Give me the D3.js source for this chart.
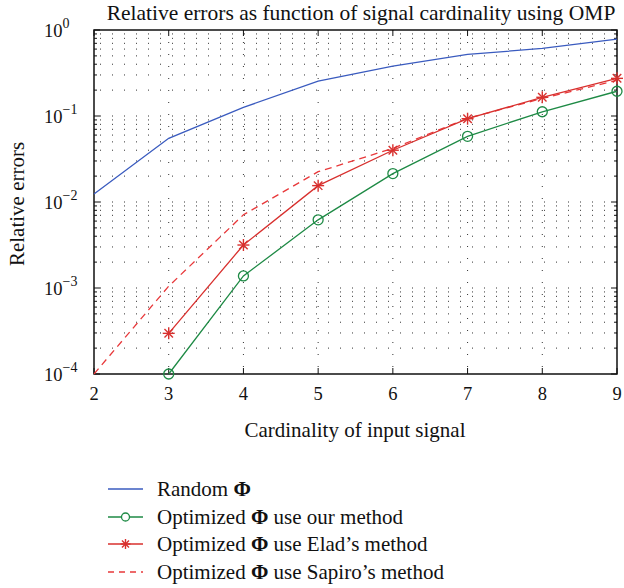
<!DOCTYPE html>
<html><head><meta charset="utf-8">
<script src="https://cdn.jsdelivr.net/npm/d3@7"></script>
<style>body{margin:0;background:#fff}text{font-family:"Liberation Serif","DejaVu Serif",serif;fill:#111}</style>
</head><body><svg id="c" width="624" height="588"></svg>
<script>
const cardinality = [2,3,4,5,6,7,8,9];
const randomPhi = [0.0124,0.055,0.126,0.255,0.38,0.52,0.61,0.785];
const ourCard = [3,4,5,6,7,8,9];
const ourMethod = [1.0e-4,1.38e-3,6.2e-3,0.0214,0.058,0.112,0.194];
const eladCard = [3,4,5,6,7,8,9];
const eladMethod = [2.97e-4,3.16e-3,0.0155,0.040,0.093,0.165,0.274];
const sapiroCard = [2,3,4,5,6,7,8,9];
const sapiroMethod = [1.0e-4,1.05e-3,7.1e-3,0.0225,0.042,0.094,0.16,0.26];
const yTicks = [1e-4,1e-3,1e-2,1e-1,1];
const yExp = ["\u22124","\u22123","\u22122","\u22121","0"];
const legendLabels = ["Random ","Optimized ","Optimized ","Optimized "];
const legendSuffix = [""," use our method"," use Elad\u2019s method"," use Sapiro\u2019s method"];

const svg = d3.select("#c");
const L=94,R=617,T=30,B=374;
const x = d3.scaleLinear().domain([2,9]).range([L,R]);
const y = d3.scaleLog().domain([1e-4,1]).range([B,T]);

const minor=[];
for(let e=-4;e<0;e++) for(let m=2;m<=9;m++) minor.push(m*Math.pow(10,e));

const g = svg.append("g");
g.selectAll(".hg").data(minor.concat(yTicks.slice(1,4))).enter().append("line")
 .attr("x1",L).attr("x2",R).attr("y1",d=>y(d)).attr("y2",d=>y(d))
 .attr("stroke","#333").attr("stroke-width",1).attr("stroke-dasharray","1,11").attr("stroke-dashoffset",-6);
g.selectAll(".vg").data(cardinality.slice(1,7)).enter().append("line")
 .attr("x1",d=>x(d)).attr("x2",d=>x(d)).attr("y1",T).attr("y2",B)
 .attr("stroke","#333").attr("stroke-width",1).attr("stroke-dasharray","1,11");

const tk = svg.append("g").attr("stroke","#111").attr("stroke-width",1);
yTicks.forEach(v=>{
  tk.append("line").attr("x1",L).attr("x2",L+6).attr("y1",y(v)).attr("y2",y(v));
  tk.append("line").attr("x1",R).attr("x2",R-6).attr("y1",y(v)).attr("y2",y(v));
});
minor.forEach(v=>{
  tk.append("line").attr("x1",L).attr("x2",L+3).attr("y1",y(v)).attr("y2",y(v));
  tk.append("line").attr("x1",R).attr("x2",R-3).attr("y1",y(v)).attr("y2",y(v));
});
cardinality.forEach(v=>{
  tk.append("line").attr("x1",x(v)).attr("x2",x(v)).attr("y1",B).attr("y2",B-6);
  tk.append("line").attr("x1",x(v)).attr("x2",x(v)).attr("y1",T).attr("y2",T+6);
});
svg.append("path").attr("d",`M${L},${T}H${R}V${B}H${L}Z`).attr("fill","none").attr("stroke","#111").attr("stroke-width",1.5);

svg.selectAll(".xl").data(cardinality).enter().append("text")
 .attr("x",d=>x(d)).attr("y",B+26).attr("text-anchor","middle").attr("font-size",18.5).text(d=>d);
yTicks.forEach((v,i)=>{
  const t=svg.append("text").attr("x",44).attr("y",y(v)+7).attr("font-size",18.5);
  t.append("tspan").text("10");
  t.append("tspan").attr("dy",-9).attr("font-size",14).text(yExp[i]);
});

svg.append("text").attr("x",361).attr("y",20).attr("text-anchor","middle").attr("font-size",21.5).text("Relative errors as function of signal cardinality using OMP");
svg.append("text").attr("x",355).attr("y",437).attr("text-anchor","middle").attr("font-size",21).text("Cardinality of input signal");
svg.append("text").attr("transform","translate(24,204) rotate(-90)").attr("text-anchor","middle").attr("font-size",21).text("Relative errors");

const blue="#3a5bbf", green="#1e8a45", red="#d8302e", red2="#e8383a";
const line=(xs,ys)=>d3.line().x((d,i)=>x(xs[i])).y(d=>y(d))(ys);
const plot=svg.append("g");
plot.append("path").attr("d",line(cardinality,randomPhi)).attr("fill","none").attr("stroke",blue).attr("stroke-width",1.3);
plot.append("path").attr("d",line(sapiroCard,sapiroMethod)).attr("fill","none").attr("stroke",red2).attr("stroke-width",1.3).attr("stroke-dasharray","7,5");
plot.append("path").attr("d",line(eladCard,eladMethod)).attr("fill","none").attr("stroke",red).attr("stroke-width",1.3);
plot.append("path").attr("d",line(ourCard,ourMethod)).attr("fill","none").attr("stroke",green).attr("stroke-width",1.3);

function star(sel,cx,cy,r,col){
  const gg=sel.append("g").attr("stroke",col).attr("stroke-width",1.4);
  for(let k=0;k<4;k++){const a=k*Math.PI/4;
    gg.append("line").attr("x1",cx-r*Math.cos(a)).attr("y1",cy-r*Math.sin(a)).attr("x2",cx+r*Math.cos(a)).attr("y2",cy+r*Math.sin(a));}
}
ourMethod.forEach((v,i)=>plot.append("circle").attr("cx",x(ourCard[i])).attr("cy",y(v)).attr("r",5).attr("fill","none").attr("stroke",green).attr("stroke-width",1.3));
eladMethod.forEach((v,i)=>star(plot,x(eladCard[i]),y(v),6,red));

const ly=[489,517,544,572];
const lg=svg.append("g");
lg.append("line").attr("x1",108).attr("x2",143).attr("y1",ly[0]).attr("y2",ly[0]).attr("stroke",blue).attr("stroke-width",1.3);
lg.append("line").attr("x1",108).attr("x2",143).attr("y1",ly[1]).attr("y2",ly[1]).attr("stroke",green).attr("stroke-width",1.3);
lg.append("circle").attr("cx",125.5).attr("cy",ly[1]).attr("r",4).attr("fill","#fff").attr("stroke",green).attr("stroke-width",1.3);
lg.append("line").attr("x1",108).attr("x2",143).attr("y1",ly[2]).attr("y2",ly[2]).attr("stroke",red).attr("stroke-width",1.3);
star(lg,125.5,ly[2],5,red);
lg.append("line").attr("x1",108).attr("x2",143).attr("y1",ly[3]).attr("y2",ly[3]).attr("stroke",red2).attr("stroke-width",1.3).attr("stroke-dasharray","6,5");
legendLabels.forEach((s,i)=>{
  const t=lg.append("text").attr("x",157).attr("y",ly[i]+7).attr("font-size",21);
  t.append("tspan").text(s);
  t.append("tspan").attr("font-weight","bold").text("\u03A6");
  t.append("tspan").text(legendSuffix[i]);
});
</script></body></html>
